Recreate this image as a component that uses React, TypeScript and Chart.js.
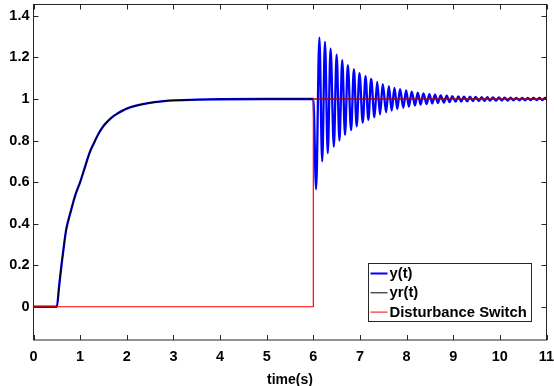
import { useEffect, useRef } from "react";
import { Chart, registerables } from "chart.js";

Chart.register(...registerables);

// ---------- data ----------
const seriesLabels = ["y(t)", "yr(t)", "Disturbance Switch"];

// step response (identical for y and yr until the disturbance switch)
const riseTime = [0, 0.5, 0.55, 0.6, 0.65, 0.7, 0.8, 0.9, 1.0, 1.1, 1.2, 1.3, 1.4, 1.5, 1.6, 1.7, 1.8, 1.9, 2.0, 2.2, 2.4, 2.6, 2.8, 3.0, 3.5, 4.0, 5.0, 6.0];
const riseValue = [0, 0, 0.1, 0.2, 0.29, 0.37, 0.46, 0.54, 0.6, 0.67, 0.74, 0.79, 0.835, 0.87, 0.895, 0.915, 0.93, 0.943, 0.954, 0.968, 0.978, 0.985, 0.99, 0.993, 0.997, 0.999, 1.0, 1.0];

// oscillation of y(t) after the disturbance switch: troughs and peaks
const troughTime = [6.06, 6.19, 6.31, 6.44, 6.56, 6.68, 6.81, 6.93, 7.06, 7.18, 7.31, 7.43, 7.56, 7.68, 7.8, 7.93, 8.05, 8.18, 8.3, 8.43, 8.55, 8.67, 8.8, 8.92, 9.05, 9.17, 9.3, 9.42, 9.55, 9.67, 9.79, 9.92, 10.04, 10.17, 10.29, 10.42, 10.54, 10.66, 10.79, 10.91];
const troughValue = [0.566, 0.7, 0.74, 0.771, 0.8, 0.827, 0.85, 0.869, 0.886, 0.9, 0.912, 0.926, 0.936, 0.944, 0.952, 0.958, 0.964, 0.969, 0.973, 0.976, 0.979, 0.981, 0.983, 0.985, 0.987, 0.988, 0.989, 0.99, 0.991, 0.991, 0.992, 0.992, 0.993, 0.993, 0.994, 0.994, 0.994, 0.995, 0.995, 0.995];
const peakTime = [6.13, 6.25, 6.37, 6.5, 6.62, 6.74, 6.87, 6.99, 7.12, 7.24, 7.37, 7.49, 7.62, 7.74, 7.86, 7.99, 8.11, 8.24, 8.36, 8.49, 8.61, 8.73, 8.86, 8.98, 9.11, 9.23, 9.36, 9.48, 9.61, 9.73, 9.85, 9.98, 10.1, 10.23, 10.35, 10.48, 10.6, 10.72, 10.85, 10.97];
const peakValue = [1.296, 1.275, 1.243, 1.214, 1.187, 1.163, 1.144, 1.125, 1.11, 1.097, 1.083, 1.072, 1.062, 1.054, 1.047, 1.041, 1.036, 1.031, 1.027, 1.024, 1.021, 1.018, 1.016, 1.014, 1.013, 1.012, 1.011, 1.01, 1.009, 1.009, 1.008, 1.008, 1.007, 1.007, 1.006, 1.006, 1.006, 1.005, 1.005, 1.005];

// reference yr(t) after switch, and disturbance switch
const yrTailTime = [6.0, 11.0];
const yrTailValue = [1.0, 1.0];
const switchTime = [0, 6.0, 6.0, 11.0];
const switchValue = [0, 0, 1, 1];

const xTicks = [0, 1, 2, 3, 4, 5, 6, 7, 8, 9, 10, 11];
const yTicks = [0, 0.2, 0.4, 0.6, 0.8, 1, 1.2, 1.4];
const xMin = 0, xMax = 11, yMin = -0.16, yMax = 1.455;

const FONT = "'Liberation Sans', Arial, Helvetica, sans-serif";
const AXIS = "#262626";

function buildY() {
  const pts: { x: number; y: number }[] = riseTime.map((t, i) => ({ x: t, y: riseValue[i] }));
  for (let k = 0; k < troughTime.length; k++) {
    pts.push({ x: troughTime[k], y: troughValue[k] });
    pts.push({ x: peakTime[k], y: peakValue[k] });
  }
  pts.push({ x: 11.03, y: 0.996 });
  return pts;
}
function buildYr() {
  const pts = riseTime.map((t, i) => ({ x: t, y: riseValue[i] }));
  yrTailTime.forEach((t, i) => pts.push({ x: t, y: yrTailValue[i] }));
  return pts;
}
function buildSwitch() {
  return switchTime.map((t, i) => ({ x: t, y: switchValue[i] }));
}

const frameTicksPlugin = {
  id: "frameTicks",
  afterDraw(chart: any) {
    const { ctx, chartArea: ca } = chart;
    const xs = chart.scales.x, ys = chart.scales.y;
    ctx.save();
    ctx.strokeStyle = AXIS;
    ctx.lineWidth = 1;
    ctx.strokeRect(ca.left, ca.top, ca.right - ca.left, ca.bottom - ca.top);
    const L = 5;
    ctx.beginPath();
    xTicks.forEach((v) => {
      const px = Math.round(xs.getPixelForValue(v)) + 0.5;
      ctx.moveTo(px, ca.bottom); ctx.lineTo(px, ca.bottom - L);
      ctx.moveTo(px, ca.top); ctx.lineTo(px, ca.top + L);
    });
    yTicks.forEach((v) => {
      const py = Math.round(ys.getPixelForValue(v)) + 0.5;
      ctx.moveTo(ca.left, py); ctx.lineTo(ca.left + L, py);
      ctx.moveTo(ca.right, py); ctx.lineTo(ca.right - L, py);
    });
    ctx.stroke();
    ctx.restore();
  },
};

const boxLegendPlugin = {
  id: "boxLegend",
  afterDatasetsDraw(chart: any) {
    const { ctx, chartArea: ca } = chart;
    const w = 163, h = 58;
    const x0 = Math.round(ca.right - 16 - w) + 0.5;
    const y0 = Math.round(ca.bottom - 19 - h) + 0.5;
    ctx.save();
    ctx.fillStyle = "#ffffff";
    ctx.fillRect(x0, y0, w, h);
    ctx.strokeStyle = AXIS;
    ctx.lineWidth = 1;
    ctx.strokeRect(x0, y0, w, h);
    ctx.font = `bold 14.8px ${FONT}`;
    ctx.textBaseline = "middle";
    ctx.textAlign = "left";
    chart.data.datasets.forEach((ds: any, i: number) => {
      const cy = y0 + 10 + i * 19.3;
      ctx.strokeStyle = ds.borderColor;
      ctx.lineWidth = ds.legendWidth;
      ctx.beginPath();
      ctx.moveTo(x0 + 2, cy);
      ctx.lineTo(x0 + 19, cy);
      ctx.stroke();
      ctx.fillStyle = "#000000";
      ctx.fillText(ds.label, x0 + 21, cy + 0.5);
    });
    ctx.restore();
  },
};

export default function App() {
  const ref = useRef<HTMLCanvasElement | null>(null);
  useEffect(() => {
    document.body.style.margin = "0";
    const canvas = ref.current;
    if (!canvas) return;
    const chart = new Chart(canvas, {
      type: "line",
      data: {
        datasets: [
          {
            label: seriesLabels[0],
            data: buildY(),
            borderColor: "#0000ff",
            borderWidth: 2.3,
            legendWidth: 2,
            pointRadius: 0,
            cubicInterpolationMode: "monotone",
            order: 2,
          } as any,
          {
            label: seriesLabels[1],
            data: buildYr(),
            borderColor: "#000000",
            borderWidth: 1.1,
            legendWidth: 1,
            pointRadius: 0,
            cubicInterpolationMode: "monotone",
            order: 1,
          } as any,
          {
            label: seriesLabels[2],
            data: buildSwitch(),
            borderColor: "#ff0000",
            borderWidth: 1.2,
            legendWidth: 1,
            pointRadius: 0,
            tension: 0,
            order: 0,
          } as any,
        ],
      },
      options: {
        responsive: false,
        animation: false,
        devicePixelRatio: 1,
        layout: { padding: { left: 0, right: 7.5, top: 4.5, bottom: 0 } },
        plugins: { legend: { display: false }, tooltip: { enabled: false } },
        scales: {
          x: {
            type: "linear",
            min: xMin,
            max: xMax,
            afterFit: (s: any) => { s.height = 46; s.paddingLeft = 0; s.paddingRight = 0; },
            afterBuildTicks: (s: any) => { s.ticks = xTicks.map((v) => ({ value: v })); },
            grid: { display: false, drawTicks: false },
            border: { display: false },
            ticks: {
              color: "#000000",
              font: { family: FONT, size: 14.5, weight: "bold" },
              padding: 8,
              maxRotation: 0,
              autoSkip: false,
              callback: (v: any) => String(v),
            },
            title: {
              display: true,
              text: "time(s)",
              color: "#000000",
              font: { family: FONT, size: 14, weight: "bold" },
              padding: { top: 0, bottom: -3 },
            },
          },
          y: {
            type: "linear",
            min: yMin,
            max: yMax,
            afterFit: (s: any) => { s.width = 33.5; s.paddingTop = 0; s.paddingBottom = 0; },
            afterBuildTicks: (s: any) => { s.ticks = yTicks.map((v) => ({ value: v })); },
            grid: { display: false, drawTicks: false },
            border: { display: false },
            ticks: {
              color: "#000000",
              font: { family: FONT, size: 14.5, weight: "bold" },
              padding: 4,
              autoSkip: false,
              callback: (v: any) => String(Number(Number(v).toFixed(1))),
            },
          },
        },
      } as any,
      plugins: [frameTicksPlugin, boxLegendPlugin],
    });
    return () => chart.destroy();
  }, []);
  return (
    <div style={{ width: 554, height: 386, background: "#ffffff" }}>
      <canvas ref={ref} width={554} height={386} style={{ display: "block", width: 554, height: 386 }} />
    </div>
  );
}
